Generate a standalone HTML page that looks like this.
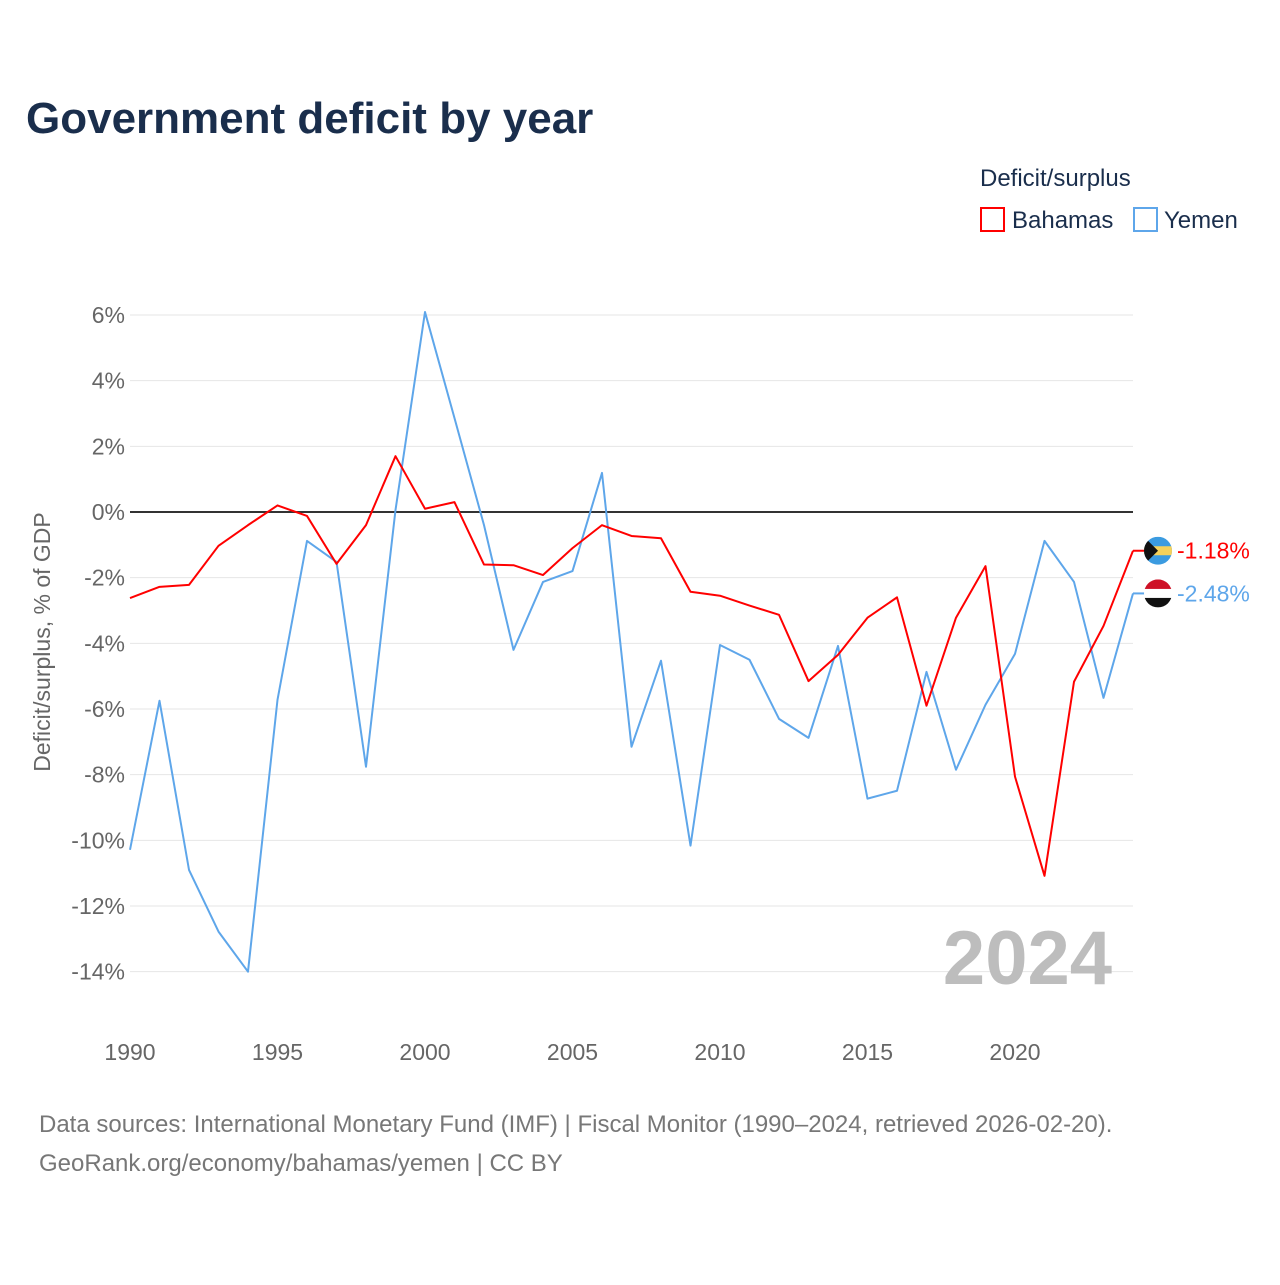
<!DOCTYPE html>
<html><head><meta charset="utf-8">
<style>
body{margin:0;background:#fff;font-family:"Liberation Sans",sans-serif;}
svg text{font-family:"Liberation Sans",sans-serif;}
</style></head>
<body>
<svg id="chart" width="1280" height="1280" xmlns="http://www.w3.org/2000/svg">
<rect width="1280" height="1280" fill="#fff"/>
<text x="26" y="133" font-size="44" font-weight="bold" fill="#1a2e4c">Government deficit by year</text>
<text x="980" y="186" font-size="24" fill="#1a2e4c">Deficit/surplus</text>
<g>
<rect x="981" y="208" width="23" height="23" fill="none" stroke="#ff0000" stroke-width="2"/>
<text x="1012" y="228" font-size="24" fill="#1a2e4c">Bahamas</text></g>
<g>
<rect x="1134" y="208" width="23" height="23" fill="none" stroke="#5ea6ea" stroke-width="2"/>
<text x="1164" y="228" font-size="24" fill="#1a2e4c">Yemen</text></g>
<text transform="translate(50,642) rotate(-90)" text-anchor="middle" font-size="23" fill="#666">Deficit/surplus, % of GDP</text>
<g id="grid"></g><g id="yt"></g><g id="xt"></g>
<text x="1112" y="984" text-anchor="end" font-size="76" font-weight="bold" fill="#bdbdbd">2024</text>
<g id="series"></g>
<text x="39" y="1132" font-size="24" fill="#777">Data sources: International Monetary Fund (IMF) | Fiscal Monitor (1990–2024, retrieved 2026-02-20).</text>
<text x="39" y="1171" font-size="24" fill="#777">GeoRank.org/economy/bahamas/yemen | CC BY</text>
</svg>
<script>
const years=[];for(let y=1990;y<=2024;y++)years.push(y);
const bahamas=[-2.62,-2.28,-2.22,-1.03,-0.4,0.2,-0.12,-1.58,-0.4,1.7,0.1,0.3,-1.6,-1.62,-1.92,-1.1,-0.4,-0.73,-0.8,-2.43,-2.55,-2.85,-3.13,-5.15,-4.35,-3.22,-2.6,-5.9,-3.22,-1.65,-8.06,-11.08,-5.17,-3.47,-1.18];
const yemen=[-10.29,-5.75,-10.9,-12.78,-14.0,-5.72,-0.88,-1.52,-7.76,0.06,6.09,2.86,-0.4,-4.2,-2.13,-1.8,1.19,-7.15,-4.53,-10.16,-4.05,-4.5,-6.3,-6.88,-4.08,-8.73,-8.49,-4.87,-7.85,-5.87,-4.32,-0.88,-2.13,-5.66,-2.48];
const yTicks=[6,4,2,0,-2,-4,-6,-8,-10,-12,-14];
const xTicks=[1990,1995,2000,2005,2010,2015,2020];
const NS="http://www.w3.org/2000/svg";
const X=v=>130+(v-1990)*(1133-130)/34;
const Y=v=>512-v*(512-315)/6;
function mk(tag,attrs,parent){const e=document.createElementNS(NS,tag);for(const k in attrs)e.setAttribute(k,attrs[k]);parent.appendChild(e);return e;}
const svg=document.getElementById('chart');
const defs=mk('defs',{},svg);
const grid=document.getElementById('grid'),yt=document.getElementById('yt'),xt=document.getElementById('xt'),ser=document.getElementById('series');
yTicks.forEach(t=>{
 const l=mk('line',{x1:130,x2:1133,y1:Y(t),y2:Y(t),stroke:t===0?'#333':'#e6e6e6','stroke-width':t===0?2:1},grid);
 
 
 const tx=mk('text',{x:125,y:Y(t)+8,'text-anchor':'end','font-size':23,fill:'#666'},yt);
 tx.textContent=t+'%';
 
 
});
xTicks.forEach(t=>{
 const tx=mk('text',{x:X(t),y:1060,'text-anchor':'middle','font-size':23,fill:'#666'},xt);
 tx.textContent=t;
 
 
});
function line(vals,color,name){
 const p=mk('polyline',{points:vals.map((v,i)=>X(years[i])+','+Y(v)).join(' '),fill:'none',stroke:color,'stroke-width':2,'stroke-linejoin':'round'},ser);
 
 
}
line(yemen,'#5ea6ea','yemen-line');
line(bahamas,'#ff0000','bahamas-line');
function endLabel(v,color,name,flag){
 const cy=Y(v),cx=1158;
 const cp=mk('clipPath',{id:'clip-'+flag},defs);
 mk('circle',{cx:cx,cy:cy,r:14},cp);
 const g=mk('g',{},ser);
 
 
 mk('line',{x1:1133,x2:1145,y1:cy,y2:cy,stroke:color,'stroke-width':2},g);
 const f=mk('g',{'clip-path':'url(#clip-'+flag+')'},g);
 if(flag==='bs'){
  mk('rect',{x:cx-14,y:cy-14,width:28,height:28,fill:'#3b9be0'},f);
  mk('rect',{x:cx-14,y:cy-4.5,width:28,height:9,fill:'#f5d15a'},f);
  mk('path',{d:`M${cx-14} ${cy-14} L${cx} ${cy} L${cx-14} ${cy+14}Z`,fill:'#111'},f);
 }else{
  mk('rect',{x:cx-14,y:cy-14,width:28,height:28,fill:'#fff'},f);
  mk('rect',{x:cx-14,y:cy-14,width:28,height:9.5,fill:'#ce1126'},f);
  mk('rect',{x:cx-14,y:cy+4.5,width:28,height:9.5,fill:'#111'},f);
 }
 const t=mk('text',{x:1177,y:cy+8,'font-size':23,fill:color},g);
 t.textContent=v.toFixed(2)+'%';
}
endLabel(bahamas[bahamas.length-1],'#ff0000','bahamas-end-label','bs');
endLabel(yemen[yemen.length-1],'#5ea6ea','yemen-end-label','ye');
</script>
</body></html>
